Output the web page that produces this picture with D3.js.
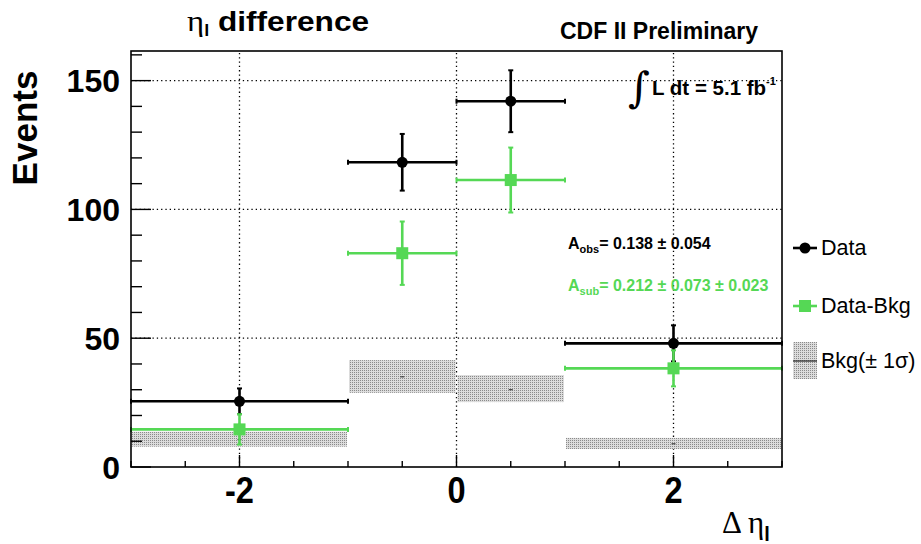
<!DOCTYPE html>
<html>
<head>
<meta charset="utf-8">
<script src="https://cdn.jsdelivr.net/npm/d3@7"></script>
<style>
  body { margin: 0; background: #fff; }
  svg { display: block; font-family: "Liberation Sans", Arial, sans-serif; }
</style>
</head>
<body>
<svg id="chart"></svg>
<script>
// bins in delta eta
var binLow  = [-3, -1, 0, 1];
var binHigh = [-1,  0, 1, 3];
var binCenter = [-2, -0.5, 0.5, 2];

// observed data
var dataValues = [25.5, 118.3, 142, 48];
var dataErrors = [5, 11, 12, 7];

// background-subtracted data
var subValues = [14.6, 83, 111.4, 38.3];
var subErrors = [5.9, 12.3, 12.6, 7];

// background +/- 1 sigma band
var bkgLow  = [7.9, 28.8, 25.2, 7.0];
var bkgHigh = [13.7, 41.5, 35.7, 11.3];
var bkgMid  = [10.6, 35, 30, 9];

var xTicks = [-2, 0, 2];
var yTicks = [0, 50, 100, 150];

var width = 921,
    height = 544;
var green = "#55d855";

var svg = d3.select("#chart")
  .attr("width", width)
  .attr("height", height);

var x = d3.scaleLinear().domain([-3, 3]).range([131, 782]);
var y = d3.scaleLinear().domain([0, 161.5]).range([467, 51]);

var defs = svg.append("defs");
var pat = defs.append("pattern")
  .attr("id", "hatch")
  .attr("patternUnits", "userSpaceOnUse")
  .attr("width", 2).attr("height", 2);
pat.append("rect").attr("width", 2).attr("height", 2).attr("fill", "#dcdcdc");
pat.append("rect").attr("width", 1).attr("height", 1).attr("fill", "#8a8a8a");

// grid
var grid = svg.append("g").attr("class", "grid")
  .attr("stroke", "#000").attr("stroke-width", 1.3).attr("stroke-dasharray", "1.3,3");
grid.selectAll("line.gx").data(xTicks).enter().append("line")
  .attr("x1", function(d) { return x(d); }).attr("x2", function(d) { return x(d); })
  .attr("y1", y(0)).attr("y2", y(161.5));
grid.selectAll("line.gy").data(yTicks.slice(1)).enter().append("line")
  .attr("x1", x(-3)).attr("x2", x(3))
  .attr("y1", function(d) { return y(d); }).attr("y2", function(d) { return y(d); });

// background band
var bins = d3.range(binLow.length);
svg.append("g").selectAll("rect").data(bins).enter().append("rect")
  .attr("x", function(i) { return x(binLow[i]) + 1; })
  .attr("width", function(i) { return x(binHigh[i]) - x(binLow[i]) - 2; })
  .attr("y", function(i) { return y(bkgHigh[i]); })
  .attr("height", function(i) { return y(bkgLow[i]) - y(bkgHigh[i]); })
  .attr("fill", "url(#hatch)");
svg.append("g").selectAll("line").data(bins).enter().append("line")
  .attr("x1", function(i) { return x(binCenter[i]) - 2; })
  .attr("x2", function(i) { return x(binCenter[i]) + 2; })
  .attr("y1", function(i) { return y(bkgMid[i]); })
  .attr("y2", function(i) { return y(bkgMid[i]); })
  .attr("stroke", "#222").attr("stroke-width", 1);

function drawSeries(values, errors, color, shape) {
  var g = svg.append("g").attr("stroke", color).attr("stroke-width", 2.6).attr("fill", color);
  bins.forEach(function(i) {
    var cx = x(binCenter[i]), cy = y(values[i]);
    var x0 = x(binLow[i]), x1 = x(binHigh[i]);
    var yt = y(values[i] + errors[i]), yb = y(values[i] - errors[i]);
    g.append("line").attr("x1", x0).attr("x2", x1).attr("y1", cy).attr("y2", cy);
    g.append("line").attr("x1", cx).attr("x2", cx).attr("y1", yt).attr("y2", yb);
    // caps
    [x0, x1].forEach(function(xx) {
      g.append("line").attr("x1", xx).attr("x2", xx).attr("y1", cy - 2.5).attr("y2", cy + 2.5).attr("stroke-width", 2);
    });
    [yt, yb].forEach(function(yy) {
      g.append("line").attr("x1", cx - 2.5).attr("x2", cx + 2.5).attr("y1", yy).attr("y2", yy).attr("stroke-width", 2);
    });
    if (shape === "circle") {
      g.append("circle").attr("cx", cx).attr("cy", cy).attr("r", 5.5).attr("stroke", "none");
    } else {
      g.append("rect").attr("x", cx - 6).attr("y", cy - 6).attr("width", 12).attr("height", 12).attr("stroke", "none");
    }
  });
}
drawSeries(dataValues, dataErrors, "#000", "circle");
drawSeries(subValues, subErrors, green, "square");

// frame
svg.append("rect")
  .attr("x", x(-3)).attr("y", y(161.5))
  .attr("width", x(3) - x(-3)).attr("height", y(0) - y(161.5))
  .attr("fill", "none").attr("stroke", "#000").attr("stroke-width", 1.6);

// ticks
var xMinor = d3.range(-3, 3.01, 0.5);
svg.append("g").selectAll("line").data(xMinor).enter().append("line")
  .attr("x1", function(d) { return x(d); }).attr("x2", function(d) { return x(d); })
  .attr("y1", y(0))
  .attr("y2", function(d) { return y(0) - (d % 2 === 0 ? 12 : 6); })
  .attr("stroke", "#000").attr("stroke-width", 1.4);
var yMinor = d3.range(0, 161, 10);
svg.append("g").selectAll("line").data(yMinor).enter().append("line")
  .attr("x1", x(-3))
  .attr("x2", function(d) { return x(-3) + (d % 50 === 0 ? 20 : 11); })
  .attr("y1", function(d) { return y(d); }).attr("y2", function(d) { return y(d); })
  .attr("stroke", "#000").attr("stroke-width", 1.4);

// tick labels
svg.append("g").selectAll("text").data(xTicks).enter().append("text")
  .attr("transform", function(d) { return "translate(" + x(d) + ",503) scale(0.88,1)"; })
  .attr("text-anchor", "middle")
  .attr("font-size", 37).attr("font-weight", "bold")
  .text(function(d) { return d < 0 ? "-" + Math.abs(d) : d; });
svg.append("g").selectAll("text").data(yTicks).enter().append("text")
  .attr("x", 120).attr("y", function(d) { return y(d) + 11.5; })
  .attr("text-anchor", "end")
  .attr("font-size", 32).attr("font-weight", "bold")
  .text(function(d) { return d; });

// axis titles
svg.append("text")
  .attr("transform", "translate(37,128) rotate(-90)")
  .attr("text-anchor", "middle")
  .attr("font-size", 35).attr("font-weight", "bold")
  .text("Events");

var xl = svg.append("text")
  .attr("x", 722).attr("y", 533)
  .attr("font-family", "Liberation Serif, serif")
  .attr("font-size", 31);
xl.append("tspan").text("\u0394 \u03b7");
xl.append("tspan").attr("font-size", 20).attr("dy", 8).attr("font-family", "Liberation Sans, sans-serif").attr("font-weight", "bold").text("l");

// title
var title = svg.append("text").attr("transform", "translate(187,31) scale(1.13,1)")
  .attr("font-size", 28).attr("font-weight", "bold");
title.append("tspan").attr("font-family", "Liberation Serif, serif").attr("font-weight", "normal").attr("font-size", 29).text("\u03b7");
title.append("tspan").attr("font-size", 16).attr("dy", 5).text("l");
title.append("tspan").attr("dy", -5).text(" difference");

svg.append("text").attr("x", 560).attr("y", 39)
  .attr("font-size", 23).attr("font-weight", "bold")
  .text("CDF II Preliminary");

// luminosity
svg.append("text").attr("x", 628).attr("y", 102)
  .attr("font-family", "DejaVu Serif, serif").attr("font-size", 42)
  .text("\u222b");
var lumi = svg.append("text").attr("x", 652).attr("y", 95)
  .attr("font-size", 20.5).attr("font-weight", "bold");
lumi.append("tspan").text("L dt = 5.1 fb");
lumi.append("tspan").attr("font-size", 11).attr("dy", -10).text("-1");

// asymmetry annotations
var aobs = svg.append("text").attr("x", 568).attr("y", 249)
  .attr("font-size", 16).attr("font-weight", "bold").attr("fill", "#000");
aobs.append("tspan").text("A");
aobs.append("tspan").attr("font-size", 11).attr("dy", 4).text("obs");
aobs.append("tspan").attr("dy", -4).text("= 0.138 \u00b1 0.054");

var asub = svg.append("text").attr("x", 568).attr("y", 291)
  .attr("font-size", 16).attr("font-weight", "bold").attr("fill", green);
asub.append("tspan").text("A");
asub.append("tspan").attr("font-size", 11).attr("dy", 4).text("sub");
asub.append("tspan").attr("dy", -4).text("= 0.212 \u00b1 0.073 \u00b1 0.023");

// legend
var legend = svg.append("g");
var legItems = ["Data", "Data-Bkg", "Bkg(\u00b1 1\u03c3)"];
var legY = [248, 306, 361];
legend.append("line").attr("x1", 793).attr("x2", 817).attr("y1", legY[0]).attr("y2", legY[0]).attr("stroke", "#000").attr("stroke-width", 2.6);
legend.append("circle").attr("cx", 805).attr("cy", legY[0]).attr("r", 5.5).attr("fill", "#000");
legend.append("line").attr("x1", 793).attr("x2", 817).attr("y1", legY[1]).attr("y2", legY[1]).attr("stroke", green).attr("stroke-width", 2.6);
legend.append("rect").attr("x", 799).attr("y", legY[1] - 6).attr("width", 12).attr("height", 12).attr("fill", green);
legend.append("rect").attr("x", 793).attr("y", 342).attr("width", 24).attr("height", 37).attr("fill", "url(#hatch)");
legend.append("line").attr("x1", 793).attr("x2", 817).attr("y1", legY[2]).attr("y2", legY[2]).attr("stroke", "#222").attr("stroke-width", 1.2);
legend.selectAll("text").data(legItems).enter().append("text")
  .attr("x", 821)
  .attr("y", function(d, i) { return legY[i] + 7; })
  .attr("font-size", 21.5)
  .text(function(d) { return d; });
</script>
</body>
</html>
